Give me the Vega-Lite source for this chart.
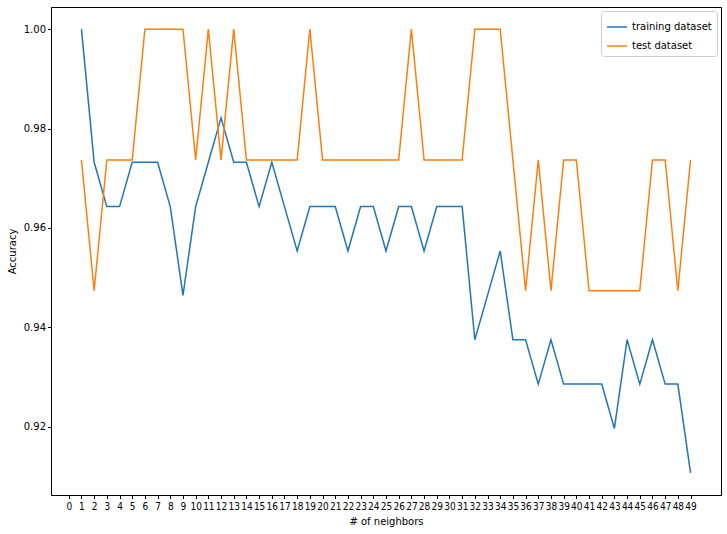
{
  "$schema": "https://vega.github.io/schema/vega-lite/v6.json",
  "width": 670,
  "height": 488,
  "autosize": "none",
  "padding": {"left": 51, "top": 7, "right": 6, "bottom": 39},
  "background": "white",
  "config": {
    "font": "DejaVu Sans",
    "view": {"stroke": "black", "strokeWidth": 1},
    "axis": {
      "grid": false,
      "domainColor": "black",
      "tickColor": "black",
      "tickSize": 3.5,
      "labelFontSize": 10,
      "labelColor": "black",
      "titleFontSize": 10,
      "titleFontWeight": "normal",
      "titleColor": "black",
      "labelPadding": 2
    }
  },
  "data": {
    "values": [
      {"k": 1, "training dataset": 1.0, "test dataset": 0.97368},
      {"k": 2, "training dataset": 0.97321, "test dataset": 0.94737},
      {"k": 3, "training dataset": 0.96429, "test dataset": 0.97368},
      {"k": 4, "training dataset": 0.96429, "test dataset": 0.97368},
      {"k": 5, "training dataset": 0.97321, "test dataset": 0.97368},
      {"k": 6, "training dataset": 0.97321, "test dataset": 1.0},
      {"k": 7, "training dataset": 0.97321, "test dataset": 1.0},
      {"k": 8, "training dataset": 0.96429, "test dataset": 1.0},
      {"k": 9, "training dataset": 0.94643, "test dataset": 1.0},
      {"k": 10, "training dataset": 0.96429, "test dataset": 0.97368},
      {"k": 11, "training dataset": 0.97321, "test dataset": 1.0},
      {"k": 12, "training dataset": 0.98214, "test dataset": 0.97368},
      {"k": 13, "training dataset": 0.97321, "test dataset": 1.0},
      {"k": 14, "training dataset": 0.97321, "test dataset": 0.97368},
      {"k": 15, "training dataset": 0.96429, "test dataset": 0.97368},
      {"k": 16, "training dataset": 0.97321, "test dataset": 0.97368},
      {"k": 17, "training dataset": 0.96429, "test dataset": 0.97368},
      {"k": 18, "training dataset": 0.95536, "test dataset": 0.97368},
      {"k": 19, "training dataset": 0.96429, "test dataset": 1.0},
      {"k": 20, "training dataset": 0.96429, "test dataset": 0.97368},
      {"k": 21, "training dataset": 0.96429, "test dataset": 0.97368},
      {"k": 22, "training dataset": 0.95536, "test dataset": 0.97368},
      {"k": 23, "training dataset": 0.96429, "test dataset": 0.97368},
      {"k": 24, "training dataset": 0.96429, "test dataset": 0.97368},
      {"k": 25, "training dataset": 0.95536, "test dataset": 0.97368},
      {"k": 26, "training dataset": 0.96429, "test dataset": 0.97368},
      {"k": 27, "training dataset": 0.96429, "test dataset": 1.0},
      {"k": 28, "training dataset": 0.95536, "test dataset": 0.97368},
      {"k": 29, "training dataset": 0.96429, "test dataset": 0.97368},
      {"k": 30, "training dataset": 0.96429, "test dataset": 0.97368},
      {"k": 31, "training dataset": 0.96429, "test dataset": 0.97368},
      {"k": 32, "training dataset": 0.9375, "test dataset": 1.0},
      {"k": 33, "training dataset": 0.94643, "test dataset": 1.0},
      {"k": 34, "training dataset": 0.95536, "test dataset": 1.0},
      {"k": 35, "training dataset": 0.9375, "test dataset": 0.97368},
      {"k": 36, "training dataset": 0.9375, "test dataset": 0.94737},
      {"k": 37, "training dataset": 0.92857, "test dataset": 0.97368},
      {"k": 38, "training dataset": 0.9375, "test dataset": 0.94737},
      {"k": 39, "training dataset": 0.92857, "test dataset": 0.97368},
      {"k": 40, "training dataset": 0.92857, "test dataset": 0.97368},
      {"k": 41, "training dataset": 0.92857, "test dataset": 0.94737},
      {"k": 42, "training dataset": 0.92857, "test dataset": 0.94737},
      {"k": 43, "training dataset": 0.91964, "test dataset": 0.94737},
      {"k": 44, "training dataset": 0.9375, "test dataset": 0.94737},
      {"k": 45, "training dataset": 0.92857, "test dataset": 0.94737},
      {"k": 46, "training dataset": 0.9375, "test dataset": 0.97368},
      {"k": 47, "training dataset": 0.92857, "test dataset": 0.97368},
      {"k": 48, "training dataset": 0.92857, "test dataset": 0.94737},
      {"k": 49, "training dataset": 0.91071, "test dataset": 0.97368}
    ]
  },
  "transform": [
    {"fold": ["training dataset", "test dataset"], "as": ["series", "accuracy"]}
  ],
  "mark": {"type": "line", "strokeWidth": 1.5, "clip": true},
  "encoding": {
    "x": {
      "field": "k",
      "type": "quantitative",
      "title": "# of neighbors",
      "scale": {"domain": [-1.4, 51.4], "nice": false, "zero": false},
      "axis": {
        "values": [0,1,2,3,4,5,6,7,8,9,10,11,12,13,14,15,16,17,18,19,20,21,22,23,24,25,26,27,28,29,30,31,32,33,34,35,36,37,38,39,40,41,42,43,44,45,46,47,48,49],
        "labelOverlap": false,
        "labelFlush": false,
        "labelFont": "DejaVu Sans Condensed",
        "format": "d",
        "labelPadding": 3,
        "titlePadding": 5
      }
    },
    "y": {
      "field": "accuracy",
      "type": "quantitative",
      "title": "Accuracy",
      "scale": {"domain": [0.90625, 1.00446], "nice": false, "zero": false},
      "axis": {
        "values": [0.92, 0.94, 0.96, 0.98, 1.0],
        "format": ".2f",
        "titlePadding": 6
      }
    },
    "color": {
      "field": "series",
      "type": "nominal",
      "scale": {"domain": ["training dataset", "test dataset"], "range": ["#1f77b4", "#ff7f0e"]},
      "legend": {
        "title": null,
        "orient": "top-right",
        "offset": 4,
        "symbolType": "stroke",
        "symbolSize": 400,
        "symbolStrokeWidth": 1.5,
        "labelFontSize": 10,
        "labelColor": "black",
        "fillColor": "white",
        "strokeColor": "#cccccc",
        "cornerRadius": 3,
        "padding": 5,
        "rowPadding": 3
      }
    }
  }
}
